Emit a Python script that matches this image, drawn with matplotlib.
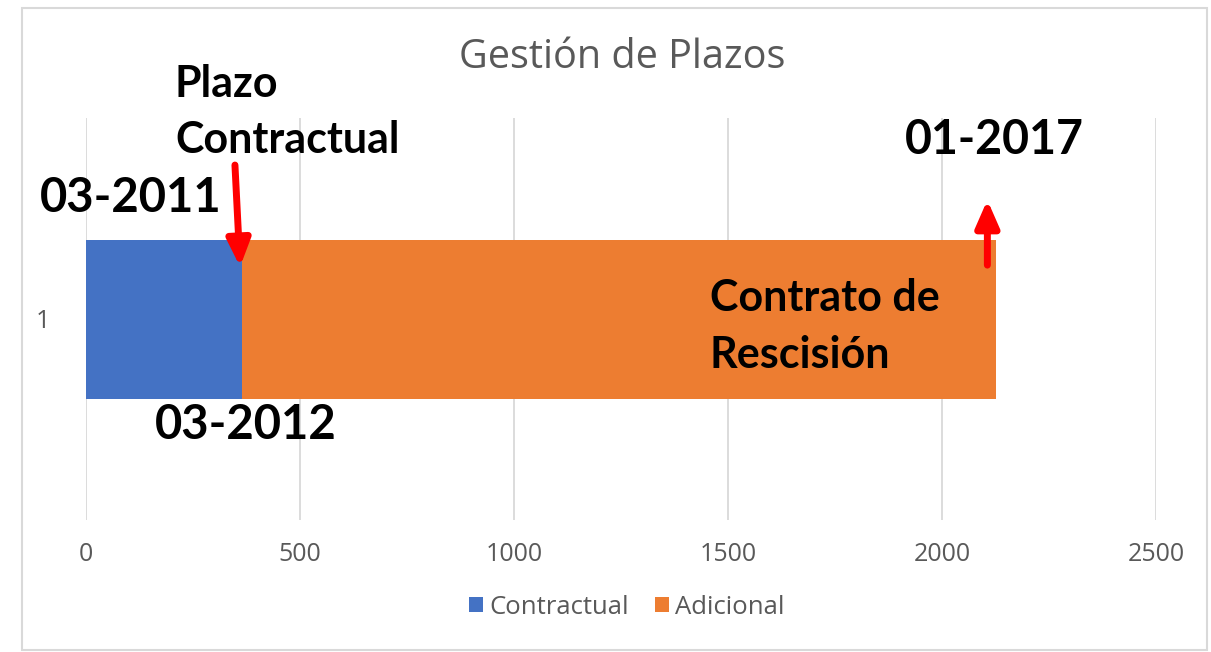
import matplotlib
matplotlib.use("Agg")
import matplotlib.pyplot as plt
from matplotlib.patches import Rectangle

categories = ["1"]
series_names = ["Contractual", "Adicional"]
contractual = [365]
adicional = [1760]
x_ticks = [0, 500, 1000, 1500, 2000, 2500]
title = "Gestión de Plazos"
colors = ["#4472C4", "#ED7D31"]

fig = plt.figure(figsize=(12.11, 6.52), dpi=100)
W, H = 1211, 652
# outer frame
fig.patches.append(Rectangle((22 / W, 1 - 650 / H), (1207 - 22) / W, (650 - 8) / H,
                             transform=fig.transFigure, fill=False,
                             edgecolor="#d9d9d9", linewidth=1.5))

ax = fig.add_axes([86 / W, 1 - 520 / H, (1156 - 86) / W, (520 - 118) / H])
ypos = list(range(len(categories)))
h = 159 / 402
ax.barh(ypos, contractual, height=h, color=colors[0], label=series_names[0], zorder=3)
ax.barh(ypos, adicional, left=contractual, height=h, color=colors[1],
        label=series_names[1], zorder=3)
ax.set_ylim(-0.5, 0.5)
ax.set_xlim(0, 2500)
ax.set_xticks(x_ticks)
ax.set_xticklabels([str(t) for t in x_ticks])
ax.set_yticks(ypos)
ax.set_yticklabels(categories)
ax.grid(axis="x", color="#d9d9d9", linewidth=1.3, zorder=0)
for s in ax.spines.values():
    s.set_visible(False)
ax.tick_params(axis="both", length=0, colors="#595959", labelsize=18)
ax.tick_params(axis="x", pad=16)
ax.tick_params(axis="y", pad=26)
for lbl in ax.get_xticklabels() + ax.get_yticklabels():
    lbl.set_fontfamily("Open Sans")

fig.text(622 / W, 1 - 58 / H, title, ha="center", va="center",
         fontsize=28.5, color="#595959", family="Open Sans")

leg = fig.legend(loc="center", bbox_to_anchor=(627 / W, 1 - 607 / H),
                 ncol=2, frameon=False, prop={"family": "Open Sans", "size": 18.5},
                 handlelength=0.55, handleheight=0.55, handletextpad=0.25, columnspacing=1.0)
for t in leg.get_texts():
    t.set_color("#595959")

bold = dict(family="Lato", fontweight="bold", color="black")
fig.text(175 / W, 1 - 84 / H, "Plazo", ha="left", va="center", fontsize=31, **bold)
fig.text(175 / W, 1 - 140 / H, "Contractual", ha="left", va="center", fontsize=31, **bold)
fig.text(40 / W, 1 - 198 / H, "03-2011", ha="left", va="center", fontsize=34, **bold)
fig.text(155 / W, 1 - 425 / H, "03-2012", ha="left", va="center", fontsize=34, **bold)
fig.text(905 / W, 1 - 140 / H, "01-2017", ha="left", va="center", fontsize=33.5, **bold)
fig.text(710 / W, 1 - 298 / H, "Contrato de", ha="left", va="center", fontsize=31, **bold)
fig.text(710 / W, 1 - 355 / H, "Rescisión", ha="left", va="center", fontsize=31, **bold)

# arrows
total = contractual[0] + adicional[0]
ax.annotate("", xy=(contractual[0] - 5, 0.13), xytext=(contractual[0] - 17, 0.383),
            xycoords="data", textcoords="data", annotation_clip=False,
            arrowprops=dict(arrowstyle="-|>,head_width=0.7,head_length=1.6",
                            color="red", lw=5, shrinkA=0, shrinkB=0))
ax.annotate("", xy=(total - 19, 0.296), xytext=(total - 19, 0.134),
            xycoords="data", textcoords="data", annotation_clip=False,
            arrowprops=dict(arrowstyle="-|>,head_width=0.7,head_length=1.6",
                            color="red", lw=5, shrinkA=0, shrinkB=0))

fig.savefig("out.png", dpi=100)
